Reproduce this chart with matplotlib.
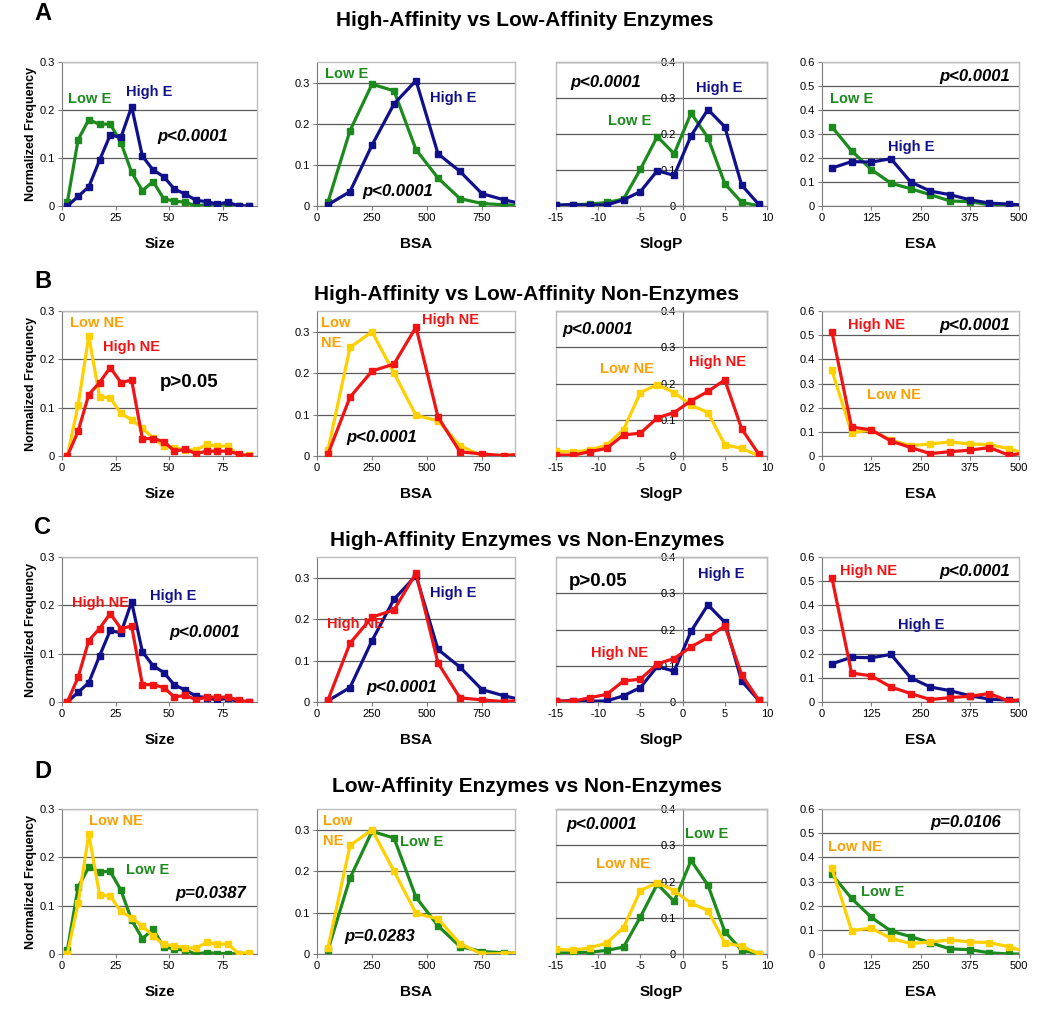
import matplotlib
matplotlib.use('Agg')
import matplotlib.pyplot as plt
from matplotlib.ticker import FuncFormatter
from matplotlib.patches import Rectangle

plt.rcParams['font.family'] = ['Liberation Sans', 'DejaVu Sans']
plt.rcParams['axes.unicode_minus'] = False

# ---------------- data ----------------
size_x = [2.5, 7.5, 12.5, 17.5, 22.5, 27.5, 32.5, 37.5, 42.5, 47.5, 52.5, 57.5, 62.5, 67.5, 72.5, 77.5, 82.5, 87.5]
size_high_e = [0.0, 0.020, 0.040, 0.095, 0.148, 0.143, 0.207, 0.104, 0.075, 0.061, 0.035, 0.025, 0.012, 0.009, 0.004, 0.008, 0.0, 0.0]
size_low_e = [0.008, 0.138, 0.180, 0.170, 0.171, 0.132, 0.070, 0.032, 0.051, 0.015, 0.010, 0.008, 0.0, 0.003, 0.001, 0.001, 0.0, 0.0]
size_high_ne = [0.0, 0.051, 0.127, 0.152, 0.183, 0.152, 0.157, 0.036, 0.036, 0.030, 0.010, 0.014, 0.005, 0.010, 0.010, 0.010, 0.004, 0.0]
size_low_ne = [0.0, 0.105, 0.248, 0.123, 0.120, 0.088, 0.075, 0.058, 0.037, 0.020, 0.017, 0.013, 0.012, 0.024, 0.020, 0.021, 0.0, 0.003]

bsa_x = [50, 150, 250, 350, 450, 550, 650, 750, 850, 950]
bsa_high_e = [0.003, 0.035, 0.148, 0.248, 0.305, 0.127, 0.084, 0.030, 0.015, 0.003]
bsa_low_e = [0.010, 0.183, 0.296, 0.280, 0.137, 0.068, 0.018, 0.006, 0.003, 0.001]
bsa_high_ne = [0.005, 0.142, 0.205, 0.222, 0.311, 0.094, 0.010, 0.005, 0.001, 0.005]
bsa_low_ne = [0.015, 0.262, 0.300, 0.200, 0.098, 0.085, 0.025, 0.0, 0.001, 0.005]

slogp_x = [-15, -13, -11, -9, -7, -5, -3, -1, 1, 3, 5, 7, 9]
slogp_high_e = [0.002, 0.004, 0.002, 0.003, 0.017, 0.040, 0.098, 0.085, 0.195, 0.268, 0.220, 0.058, 0.005]
slogp_low_e = [0.002, 0.004, 0.005, 0.010, 0.019, 0.102, 0.193, 0.145, 0.258, 0.190, 0.062, 0.010, 0.001]
slogp_high_ne = [0.003, 0.002, 0.012, 0.021, 0.058, 0.063, 0.105, 0.120, 0.152, 0.178, 0.210, 0.075, 0.006]
slogp_low_ne = [0.014, 0.010, 0.017, 0.030, 0.073, 0.175, 0.197, 0.175, 0.140, 0.120, 0.031, 0.021, 0.001]

esa_x = [25, 75, 125, 175, 225, 275, 325, 375, 425, 475, 525]
esa_high_e = [0.158, 0.185, 0.183, 0.197, 0.100, 0.062, 0.047, 0.026, 0.012, 0.008, 0.002]
esa_low_e = [0.330, 0.230, 0.152, 0.095, 0.072, 0.047, 0.021, 0.018, 0.005, 0.0, 0.0]
esa_high_ne = [0.515, 0.120, 0.108, 0.062, 0.035, 0.010, 0.018, 0.024, 0.035, 0.003, 0.015]
esa_low_ne = [0.355, 0.097, 0.107, 0.065, 0.043, 0.050, 0.058, 0.050, 0.047, 0.030, 0.005]

row_letters = ['A', 'B', 'C', 'D']
row_titles = ['High-Affinity vs Low-Affinity Enzymes',
              'High-Affinity vs Low-Affinity Non-Enzymes',
              'High-Affinity Enzymes vs Non-Enzymes',
              'Low-Affinity Enzymes vs Non-Enzymes']
var_names = ['Size', 'BSA', 'SlogP', 'ESA']
p_values = [['p<0.0001', 'p<0.0001', 'p<0.0001', 'p<0.0001'],
            ['p>0.05', 'p<0.0001', 'p<0.0001', 'p<0.0001'],
            ['p<0.0001', 'p<0.0001', 'p>0.05', 'p<0.0001'],
            ['p=0.0387', 'p=0.0283', 'p<0.0001', 'p=0.0106']]

# ---------------- styling ----------------
GREEN = '#1c8a1c'
NAVY = '#10108a'
RED = '#f01414'
YELLOW = '#ffd000'
ORANGE = '#ffa000'

series = {
    'Size': (size_x, {'HE': size_high_e, 'LE': size_low_e, 'HN': size_high_ne, 'LN': size_low_ne}),
    'BSA': (bsa_x, {'HE': bsa_high_e, 'LE': bsa_low_e, 'HN': bsa_high_ne, 'LN': bsa_low_ne}),
    'SlogP': (slogp_x, {'HE': slogp_high_e, 'LE': slogp_low_e, 'HN': slogp_high_ne, 'LN': slogp_low_ne}),
    'ESA': (esa_x, {'HE': esa_high_e, 'LE': esa_low_e, 'HN': esa_high_ne, 'LN': esa_low_ne}),
}
line_color = {'HE': NAVY, 'LE': GREEN, 'HN': RED, 'LN': YELLOW}
text_color = {'HE': NAVY, 'LE': GREEN, 'HN': RED, 'LN': ORANGE}
text_name = {'HE': 'High E', 'LE': 'Low E', 'HN': 'High NE', 'LN': 'Low NE'}

# drawing order per row (first drawn below)
row_series = [['LE', 'HE'], ['LN', 'HN'], ['HE', 'HN'], ['LE', 'LN']]

xlims = {'Size': (0, 91), 'BSA': (0, 900), 'SlogP': (-15, 10), 'ESA': (0, 500)}
xticks = {'Size': [0, 25, 50, 75], 'BSA': [0, 250, 500, 750],
          'SlogP': [-15, -10, -5, 0, 5, 10], 'ESA': [0, 125, 250, 375, 500]}
ylims = {'Size': (0, 0.3), 'BSA': (0, 0.35), 'SlogP': (0, 0.4), 'ESA': (0, 0.6)}
yticks = {'Size': [0, 0.1, 0.2, 0.3], 'BSA': [0, 0.1, 0.2, 0.3],
          'SlogP': [0, 0.1, 0.2, 0.3, 0.4], 'ESA': [0, 0.1, 0.2, 0.3, 0.4, 0.5, 0.6]}

# label placements in axes fraction: (key, x, y, ha, text override)
labels = [
    [  # row A
        [('LE', 0.03, 0.74, 'left', None), ('HE', 0.33, 0.79, 'left', None), ('P', 0.49, 0.48, 'left', None)],
        [('LE', 0.04, 0.92, 'left', None), ('HE', 0.57, 0.75, 'left', None), ('P', 0.23, 0.10, 'left', None)],
        [('P', 0.07, 0.86, 'left', None), ('HE', 0.665, 0.82, 'left', None), ('LE', 0.245, 0.59, 'left', None)],
        [('P', 0.955, 0.90, 'right', None), ('LE', 0.04, 0.74, 'left', None), ('HE', 0.335, 0.41, 'left', None)],
    ],
    [  # row B
        [('LN', 0.04, 0.92, 'left', None), ('HN', 0.21, 0.75, 'left', None), ('P', 0.50, 0.51, 'left', None)],
        [('LN', 0.02, 0.92, 'left', 'Low'), ('LN', 0.02, 0.78, 'left', 'NE'), ('HN', 0.53, 0.94, 'left', None), ('P', 0.15, 0.13, 'left', None)],
        [('P', 0.03, 0.87, 'left', None), ('HN', 0.63, 0.65, 'left', None), ('LN', 0.21, 0.60, 'left', None)],
        [('HN', 0.13, 0.90, 'left', None), ('P', 0.955, 0.90, 'right', None), ('LN', 0.23, 0.42, 'left', None)],
    ],
    [  # row C
        [('HN', 0.05, 0.68, 'left', None), ('HE', 0.45, 0.73, 'left', None), ('P', 0.55, 0.48, 'left', None)],
        [('HN', 0.05, 0.54, 'left', None), ('HE', 0.57, 0.755, 'left', None), ('P', 0.25, 0.10, 'left', None)],
        [('P', 0.06, 0.83, 'left', None), ('HE', 0.675, 0.88, 'left', None), ('HN', 0.165, 0.34, 'left', None)],
        [('HN', 0.09, 0.90, 'left', None), ('P', 0.955, 0.90, 'right', None), ('HE', 0.385, 0.53, 'left', None)],
    ],
    [  # row D
        [('LN', 0.14, 0.92, 'left', None), ('LE', 0.33, 0.58, 'left', None), ('P', 0.58, 0.42, 'left', None)],
        [('LN', 0.03, 0.92, 'left', 'Low'), ('LN', 0.03, 0.78, 'left', 'NE'), ('LE', 0.42, 0.77, 'left', None), ('P', 0.14, 0.12, 'left', None)],
        [('P', 0.05, 0.89, 'left', None), ('LE', 0.61, 0.83, 'left', None), ('LN', 0.19, 0.62, 'left', None)],
        [('P', 0.91, 0.91, 'right', None), ('LN', 0.03, 0.74, 'left', None), ('LE', 0.20, 0.43, 'left', None)],
    ],
]

W, H = 1047, 1032
fig = plt.figure(figsize=(W / 100, H / 100), dpi=100)
fig.patch.set_facecolor('white')

row_y = [(62, 206), (311, 456), (557, 702), (809, 954)]
col_x = [(62, 257), (317, 515), (556, 767), (822, 1019)]
letter_y = [14, 282, 527, 771]
title_y = [20, 294, 540, 787]
title_x = [525, 527, 527, 527]


def yfmt(v, pos):
    return '0' if abs(v) < 1e-9 else f'{v:.1f}'


for r in range(4):
    fig.text(43 / W, 1 - letter_y[r] / H, row_letters[r], fontsize=17, fontweight='bold',
             ha='center', va='center')
    fig.text(title_x[r] / W, 1 - title_y[r] / H, row_titles[r], fontsize=15, fontweight='bold',
             ha='center', va='center')
    y0, y1 = row_y[r]
    for c, var in enumerate(var_names):
        x0, x1 = col_x[c]
        ax = fig.add_axes([x0 / W, 1 - y1 / H, (x1 - x0) / W, (y1 - y0) / H])
        xs, d = series[var]
        for key in row_series[r]:
            ax.plot(xs, d[key], color=line_color[key], lw=2.3, marker='s', ms=4,
                    mec=line_color[key], mfc=line_color[key], clip_on=True, zorder=3)
        ax.set_xlim(*xlims[var])
        ax.set_ylim(*ylims[var])
        ax.set_xticks(xticks[var])
        ax.set_yticks(yticks[var])
        ax.yaxis.set_major_formatter(FuncFormatter(yfmt))
        ax.yaxis.grid(True, color='#5a5a5a', lw=0.9)
        ax.set_axisbelow(True)
        ax.tick_params(axis='both', labelsize=8, length=3, width=0.8, color='#808080', pad=2)
        for s in ['top', 'right']:
            ax.spines[s].set_color('#bdbdbd')
            ax.spines[s].set_linewidth(1.0)
        ax.spines['bottom'].set_color('#7a7a7a')
        ax.spines['left'].set_color('#7a7a7a')
        if var == 'SlogP':
            ax.spines['left'].set_position(('data', 0))
            ax.add_patch(Rectangle((0, 0), 1, 1, transform=ax.transAxes, fill=False,
                                   ec='#bdbdbd', lw=1.0, zorder=0.5, clip_on=False))
        ax.set_xlabel(var, fontsize=11, fontweight='bold', labelpad=10)
        if c == 0:
            ax.set_ylabel('Normalized Frequency', fontsize=9, fontweight='bold', labelpad=2)
        for key, tx, ty, ha, override in labels[r][c]:
            if key == 'P':
                txt = p_values[r][c]
                italic = not txt.startswith('p>')
                fs = 12 if italic else 13.5
                ax.text(tx, ty, txt, transform=ax.transAxes, ha=ha, va='center',
                        fontsize=fs, fontweight='bold', style='italic' if italic else 'normal',
                        color='black', zorder=5)
            else:
                txt = override if override else text_name[key]
                ax.text(tx, ty, txt, transform=ax.transAxes, ha=ha, va='center',
                        fontsize=10.5, fontweight='bold', color=text_color[key], zorder=5)

fig.savefig('out.png', dpi=100, facecolor='white')
